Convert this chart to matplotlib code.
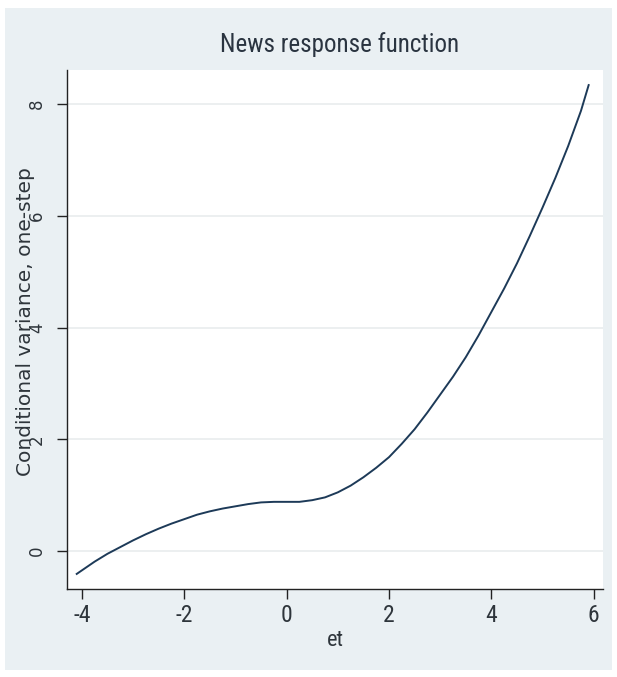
import matplotlib
matplotlib.use("Agg")
import matplotlib.pyplot as plt
from matplotlib.patches import Rectangle
from matplotlib import font_manager

# ---- data ----
et = [-4.1, -3.75, -3.5, -3.25, -3.0, -2.75, -2.5, -2.25, -2.0, -1.75, -1.5, -1.25,
      -1.0, -0.75, -0.5, -0.25, 0.0, 0.25, 0.5, 0.75, 1.0, 1.25, 1.5, 1.75, 2.0,
      2.25, 2.5, 2.75, 3.0, 3.25, 3.5, 3.75, 4.0, 4.25, 4.5, 4.75, 5.0, 5.25, 5.5,
      5.75, 5.9]
cond_var = [-0.41, -0.19, -0.05, 0.07, 0.19, 0.30, 0.40, 0.49, 0.57, 0.65, 0.71, 0.76,
            0.80, 0.84, 0.87, 0.88, 0.88, 0.88, 0.91, 0.96, 1.05, 1.17, 1.32, 1.49, 1.68,
            1.92, 2.18, 2.48, 2.80, 3.12, 3.47, 3.86, 4.28, 4.70, 5.15, 5.64, 6.15, 6.68, 7.25,
            7.88, 8.34]
xticks = [-4, -2, 0, 2, 4, 6]
yticks = [0, 2, 4, 6, 8]
title = "News response function"
xlabel = "et"
ylabel = "Conditional variance, one-step"

names = {f.name for f in font_manager.fontManager.ttflist}
narrow = "DejaVu Sans"
for cand in ["Liberation Sans Narrow", "Arial Narrow", "Roboto Condensed",
             "Open Sans Condensed", "DejaVu Sans Condensed"]:
    if cand in names:
        narrow = cand
        break
plt.rcParams['font.family'] = [narrow, 'DejaVu Sans']

W, H = 617, 677
fig = plt.figure(figsize=(W / 100, H / 100), dpi=100, facecolor="white")

bg = "#eaf0f3"
fig.patches.append(Rectangle((5 / W, 1 - 670 / H), (612 - 5) / W, (670 - 8) / H,
                             transform=fig.transFigure, facecolor=bg, edgecolor="none",
                             zorder=-10))

ax = fig.add_axes([67 / W, 1 - 589 / H, (603 - 67) / W, (589 - 70) / H])
ax.set_zorder(5)
ax.set_facecolor("white")
ax.plot(et, cond_var, color="#1d3a58", lw=1.4, zorder=3)

ax.set_xlim(-4.29, 6.18)
ax.set_ylim(-0.68, 8.61)
ax.set_xticks(xticks)
ax.set_yticks(yticks)
ax.set_xticklabels([str(t) for t in xticks])
ax.set_yticklabels([str(t) for t in yticks], rotation=90, va="center",
                   family=["DejaVu Sans"])
ax.grid(axis="y", color="#e9ecee", lw=1.2, zorder=1)
ax.set_axisbelow(True)
for s in ("top", "right"):
    ax.spines[s].set_visible(False)
for s in ("left", "bottom"):
    ax.spines[s].set_color("#222222")
    ax.spines[s].set_linewidth(1.0)
ax.tick_params(axis="both", direction="out", length=7, width=1.0, color="#222222",
               labelcolor="#2e353b")
ax.tick_params(axis="x", labelsize=17, pad=4)
ax.tick_params(axis="y", labelsize=12, pad=8)

fig.text(340 / W, 1 - 45 / H, title, ha="center", va="center", fontsize=18,
         color="#2a3440", zorder=10)
fig.text(335 / W, 1 - 640 / H, xlabel, ha="center", va="center", fontsize=16,
         color="#2e353b", zorder=10)
fig.text(26 / W, 1 - 322 / H, ylabel, ha="center", va="center", rotation=90,
         fontsize=14.5, color="#2e353b", zorder=10, family=["DejaVu Sans"])

fig.savefig("out.png", dpi=100, facecolor=fig.get_facecolor())
